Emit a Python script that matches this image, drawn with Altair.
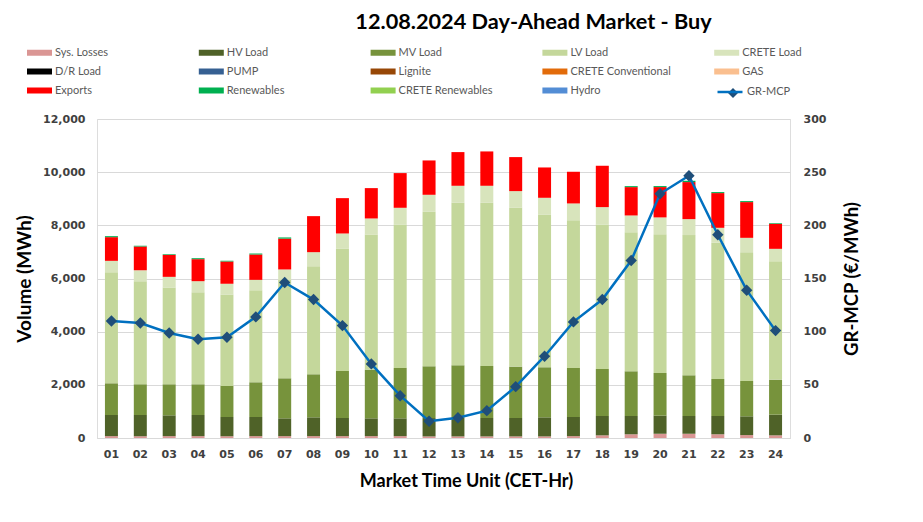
import altair as alt
import pandas as pd

hours = [f"{i:02d}" for i in range(1, 25)]

sys_losses = [70, 70, 70, 70, 70, 70, 70, 70, 70, 70, 70, 60, 60, 60, 60, 60, 70, 100, 140, 160, 160, 140, 110, 100]
hv_load = [796, 796, 783, 796, 721, 721, 670, 708, 683, 670, 670, 690, 693, 693, 693, 718, 720, 728, 688, 681, 668, 688, 706, 779]
mv_load = [1192, 1155, 1168, 1155, 1167, 1305, 1506, 1619, 1770, 1833, 1896, 1948, 1983, 1958, 1933, 1883, 1846, 1770, 1682, 1606, 1531, 1393, 1330, 1317]
lv_load = [4179, 3878, 3639, 3463, 3439, 3464, 3694, 4066, 4593, 5070, 5384, 5811, 6112, 6137, 5974, 5735, 5559, 5434, 5233, 5221, 5273, 5136, 4846, 4456]
crete_load = [427, 414, 402, 415, 401, 389, 400, 527, 577, 615, 640, 640, 640, 640, 627, 640, 628, 653, 628, 630, 602, 550, 538, 464]
exports = [891, 891, 828, 828, 841, 954, 1160, 1356, 1330, 1142, 1305, 1292, 1267, 1292, 1280, 1141, 1192, 1556, 1067, 1141, 1393, 1306, 1344, 941]
renewables = [38, 25, 25, 37, 25, 37, 45, 0, 0, 0, 0, 0, 0, 0, 0, 0, 0, 0, 37, 38, 49, 38, 38, 25]
gr_mcp = [110.1, 108.2, 98.8, 92.9, 94.8, 113.9, 146.2, 130.2, 105.7, 69.7, 39.8, 15.7, 19.1, 25.7, 48.3, 76.9, 109.2, 130.2, 166.9, 229.7, 246.6, 191.1, 139.0, 101.0]

series_names = ["Sys. Losses", "HV Load", "MV Load", "LV Load", "CRETE Load",
                "D/R Load", "PUMP", "Lignite", "CRETE Conventional", "GAS",
                "Exports", "Renewables", "CRETE Renewables", "Hydro"]
series_colors = ["#DA9694", "#4F6228", "#77933C", "#C4D79B", "#D8E4BC",
                 "#000000", "#366092", "#974706", "#E26B0A", "#FABF8F",
                 "#FF0000", "#00B050", "#92D050", "#538DD5"]

series_values = {
    "Sys. Losses": sys_losses,
    "HV Load": hv_load,
    "MV Load": mv_load,
    "LV Load": lv_load,
    "CRETE Load": crete_load,
    "Exports": exports,
    "Renewables": renewables,
}

rows = []
for k, name in enumerate(series_names):
    vals = series_values.get(name)
    if vals is None:
        continue
    for h, v in zip(hours, vals):
        rows.append({"hour": h, "series": name, "value": v, "order": k})
bars_df = pd.DataFrame(rows)
line_df = pd.DataFrame({"hour": hours, "price": gr_mcp, "name": ["GR-MCP"] * len(hours)})

LABEL_FONT = "DejaVu Sans"
LEGEND_FONT = "Lato"

x_enc = alt.X(
    "hour:O",
    title="Market Time Unit (CET-Hr)",
    scale=alt.Scale(paddingInner=0.55, paddingOuter=0.275),
    axis=alt.Axis(
        labelAngle=0, tickSize=0, domain=True, domainColor="#D9D9D9",
        labelFont=LABEL_FONT, labelFontWeight="bold", labelFontSize=11,
        labelColor="#404040", labelPadding=10,
        titleFont=LEGEND_FONT, titleFontSize=18, titleFontWeight="bold",
        titleColor="#000000", titlePadding=13, titleX=369, titleAnchor="start",
        titleAlign="center",
    ),
)

rect_path = "M-1,-0.24H1V0.24H-1Z"

bars = alt.Chart(bars_df).mark_bar().encode(
    x=x_enc,
    y=alt.Y(
        "sum(value):Q",
        title="Volume (MWh)",
        scale=alt.Scale(domain=[0, 12000]),
        axis=alt.Axis(
            values=list(range(0, 12001, 2000)), format=",.0f", tickSize=0, domain=False,
            grid=True, gridColor="#D9D9D9", gridWidth=1,
            labelFont=LABEL_FONT, labelFontWeight="bold", labelFontSize=11,
            labelColor="#404040", labelPadding=12,
            titleFont=LEGEND_FONT, titleFontSize=19, titleFontWeight="bold",
            titleColor="#000000", titlePadding=8,
        ),
    ),
    color=alt.Color(
        "series:N",
        scale=alt.Scale(domain=series_names, range=series_colors),
        legend=alt.Legend(
            orient="none", legendX=-70, legendY=-79, columns=5, direction="horizontal",
            title=None,
            symbolType=rect_path, symbolSize=625, symbolStrokeWidth=0,
            labelFont=LEGEND_FONT, labelFontSize=11, labelColor="#595959",
            labelOffset=3, columnPadding=42.8, rowPadding=1, gridAlign="all",
            padding=0,
        ),
    ),
    order=alt.Order("order:Q", sort="ascending"),
)


def price_y():
    return alt.Y(
        "price:Q",
        title="GR-MCP (€/MWh)",
        scale=alt.Scale(domain=[0, 300]),
        axis=alt.Axis(
            orient="right", values=list(range(0, 301, 50)), format=".0f",
            tickSize=0, domain=False, grid=False,
            labelFont=LABEL_FONT, labelFontWeight="bold", labelFontSize=11,
            labelColor="#404040", labelPadding=13,
            titleFont=LEGEND_FONT, titleFontSize=18.5, titleFontWeight="bold",
            titleColor="#000000", titlePadding=17, titleAngle=270,
            titleBaseline="top",
        ),
    )


line = alt.Chart(line_df).mark_line(strokeWidth=2.5).encode(
    x=alt.X("hour:O"),
    y=price_y(),
    color=alt.Color(
        "name:N",
        scale=alt.Scale(domain=["GR-MCP"], range=["#0070C0"]),
        legend=alt.Legend(
            orient="none", legendX=619, legendY=-41, title=None,
            symbolType="stroke", symbolSize=625, symbolStrokeWidth=2.5,
            labelFont=LEGEND_FONT, labelFontSize=11, labelColor="#595959",
            labelOffset=3, padding=0,
        ),
    ),
)

points = alt.Chart(line_df).mark_point(
    shape="diamond", size=130, filled=True, color="#1F4E79", opacity=1
).encode(
    x=alt.X("hour:O"),
    y=price_y(),
    shape=alt.Shape(
        "name:N",
        scale=alt.Scale(domain=["GR-MCP"], range=["diamond"]),
        legend=alt.Legend(
            orient="none", legendX=631, legendY=-31, title=None,
            symbolSize=100, symbolFillColor="#1F4E79", symbolStrokeWidth=0,
            labelExpr="''", padding=0,
        ),
    ),
)

price_layer = alt.layer(line, points)

chart = alt.layer(bars, price_layer).resolve_scale(
    y="independent", color="independent"
).properties(
    width=693,
    height=319,
    padding={"left": 89, "top": 111, "right": 125, "bottom": 76},
    autosize=alt.AutoSizeParams(type="none"),
    title=alt.TitleParams(
        text="12.08.2024  Day-Ahead Market - Buy", anchor="middle", dx=90,
        offset=10, dy=4, font=LEGEND_FONT, fontSize=21.7, fontWeight="bold", color="#000000",
    ),
).configure_view(stroke=None).configure(background="#FFFFFF")

chart.save("out.html", embed_options={"renderer": "svg", "actions": False})
